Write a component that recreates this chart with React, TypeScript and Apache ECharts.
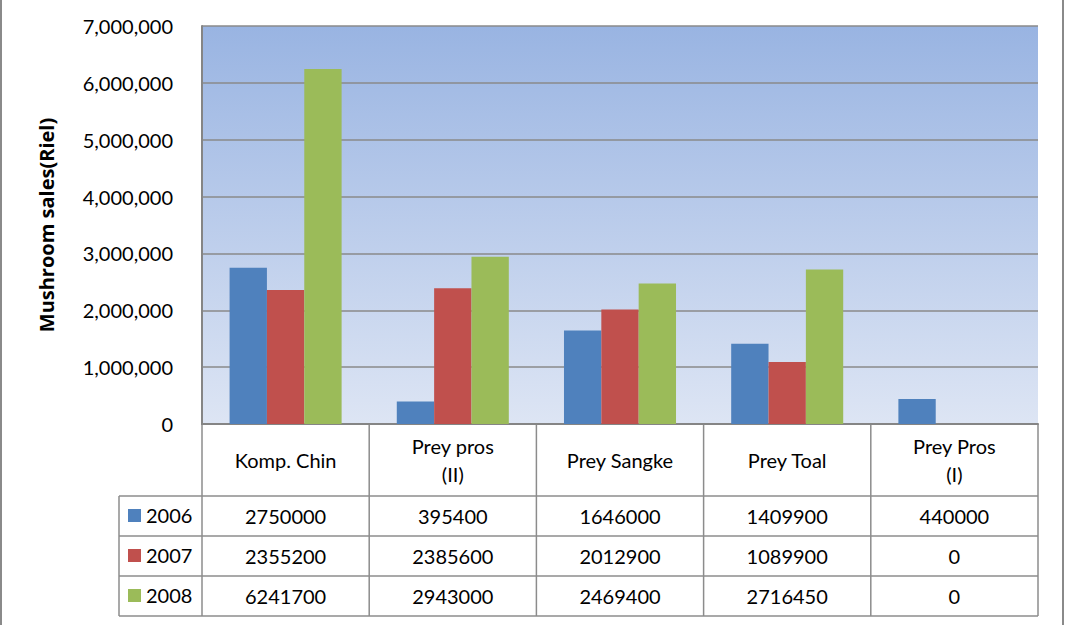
import React, { useEffect, useRef } from "react";
import * as echarts from "echarts";

const categories = ["Komp. Chin", "Prey pros\n(II)", "Prey Sangke", "Prey Toal", "Prey Pros\n(I)"];
const years = ["2006", "2007", "2008"];
const sales2006 = [2750000, 395400, 1646000, 1409900, 440000];
const sales2007 = [2355200, 2385600, 2012900, 1089900, 0];
const sales2008 = [6241700, 2943000, 2469400, 2716450, 0];
const yTicks = { min: 0, max: 7000000, interval: 1000000 };
const colors = ["#4F81BD", "#C0504D", "#9BBB59"];

const W = 1065;
const H = 625;
const GL = 202;
const GR = 1038;
const GT = 26;
const GB = 424;
const FONT = "Lato, 'Noto Sans', sans-serif";
const LINE = "#8c8c8c";

export default function App() {
  const ref = useRef<HTMLDivElement>(null);
  useEffect(() => {
    document.body.style.margin = "0";
    const chart = echarts.init(ref.current!, null, { renderer: "svg" });
    const seriesData = [sales2006, sales2007, sales2008];
    const colW = (GR - GL) / categories.length;
    const headerBottom = 496;
    const rowH = 40;
    const tableLeft = 119;
    const graphics: any[] = [];
    graphics.push({ type: "line", shape: { x1: 1, y1: 0, x2: 1, y2: H }, style: { stroke: "#8a8a8a", lineWidth: 2 } });
    graphics.push({ type: "line", shape: { x1: 1063, y1: 0, x2: 1063, y2: H }, style: { stroke: "#8a8a8a", lineWidth: 2 } });
    for (let i = 0; i <= categories.length; i++) {
      const x = GL + colW * i;
      graphics.push({ type: "line", shape: { x1: x, y1: GB, x2: x, y2: headerBottom + rowH * 3 }, style: { stroke: LINE, lineWidth: 1.5 } });
    }
    graphics.push({ type: "line", shape: { x1: tableLeft, y1: headerBottom, x2: tableLeft, y2: headerBottom + rowH * 3 }, style: { stroke: LINE, lineWidth: 1.5 } });
    for (let r = 0; r <= 3; r++) {
      const y = headerBottom + rowH * r;
      graphics.push({ type: "line", shape: { x1: tableLeft, y1: y, x2: GR, y2: y }, style: { stroke: LINE, lineWidth: 1.5 } });
    }
    years.forEach((yr, r) => {
      const cy = headerBottom + rowH * (r + 0.5);
      graphics.push({ type: "rect", shape: { x: 128, y: cy - 7, width: 13, height: 13 }, style: { fill: colors[r] } });
      graphics.push({
        type: "text",
        x: 146,
        y: cy - 1,
        style: { text: yr, fontSize: 20, fontFamily: FONT, fill: "#000", align: "left", verticalAlign: "middle" },
      });
    });
    seriesData.forEach((arr, r) => {
      arr.forEach((v, i) => {
        graphics.push({
          type: "text",
          x: GL + colW * (i + 0.5),
          y: headerBottom + rowH * (r + 0.5),
          style: { text: String(v), fontSize: 20, fontFamily: FONT, fill: "#000", align: "center", verticalAlign: "middle" },
        });
      });
    });

    chart.setOption({
      animation: false,
      backgroundColor: "#ffffff",
      color: colors,
      textStyle: { fontFamily: FONT },
      grid: {
        left: GL,
        right: W - GR,
        top: GT,
        bottom: H - GB,
        show: true,
        borderWidth: 0,
        backgroundColor: new echarts.graphic.LinearGradient(0, 0, 0, 1, [
          { offset: 0, color: "#99B4E2" },
          { offset: 1, color: "#DDE5F4" },
        ]),
      },
      xAxis: {
        type: "category",
        data: categories,
        axisLine: { show: true, lineStyle: { color: "#858585", width: 2 } },
        axisTick: { show: false },
        axisLabel: {
          fontSize: 20,
          color: "#000",
          fontFamily: FONT,
          margin: 36,
          verticalAlign: "middle",
          lineHeight: 28,
          interval: 0,
        },
      },
      yAxis: {
        type: "value",
        min: yTicks.min,
        max: yTicks.max,
        interval: yTicks.interval,
        name: "Mushroom sales(Riel)",
        nameLocation: "middle",
        nameGap: 146,
        nameTextStyle: { fontSize: 20, fontWeight: "bold", color: "#000", fontFamily: "'Open Sans', 'Noto Sans', sans-serif" },
        axisLine: { show: true, lineStyle: { color: "#858585", width: 2 } },
        axisTick: { show: false },
        axisLabel: {
          fontSize: 20,
          color: "#000",
          fontFamily: FONT,
          margin: 29,
          formatter: (v: number) => v.toLocaleString("en-US"),
        },
        splitLine: { show: true, lineStyle: { color: "#8a8a8a", width: 1.5 } },
      },
      series: years.map((y, i) => ({
        name: y,
        type: "bar",
        data: seriesData[i],
        barGap: "0%",
        barCategoryGap: "33%",
        itemStyle: { color: colors[i] },
      })),
      graphic: graphics,
    });
    return () => chart.dispose();
  }, []);
  return <div ref={ref} style={{ width: W, height: H }} />;
}
